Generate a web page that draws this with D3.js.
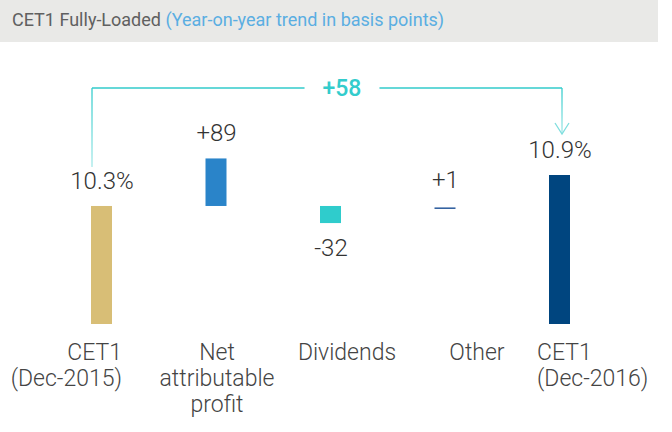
<!DOCTYPE html>
<html>
<head>
<meta charset="utf-8">
<script src="https://cdn.jsdelivr.net/npm/d3@7"></script>
<style>
  body { margin: 0; background: #fff; }
  svg { display: block; }
</style>
</head>
<body>
<script>
// Chart data
const categories = ["CET1 (Dec-2015)", "Net attributable profit", "Dividends", "Other", "CET1 (Dec-2016)"];
const categoryLines = [["CET1", "(Dec-2015)"], ["Net", "attributable", "profit"], ["Dividends"], ["Other"], ["CET1", "(Dec-2016)"]];
const kinds = ["total", "delta", "delta", "delta", "total"];
const valuesBp = [1030, 89, -32, 1, 1088];
const valueLabels = ["10.3%", "+89", "-32", "+1", "10.9%"];
const totalChange = "+58";
const titleMain = "CET1 Fully-Loaded";
const titleSub = "(Year-on-year trend in basis points)";
const colors = ["#d8be76", "#2a84c9", "#2fcccc", "#2a5a9c", "#00457f"];

const width = 672, height = 432;
const barW = 20;
const baseBp = 809; // floor of the cropped axis

const svg = d3.select("body").append("svg")
    .attr("width", width)
    .attr("height", height);

// Header band
svg.append("rect")
    .attr("x", 0).attr("y", 0)
    .attr("width", 658).attr("height", 42)
    .attr("fill", "#e9e9e7");

const title = svg.append("text")
    .attr("x", 12).attr("y", 26)
    .style("font-family", "Roboto, sans-serif")
    .style("font-size", "18px")
    .attr("fill", "#606060");
title.append("tspan").text(titleMain + " ");
title.append("tspan").attr("fill", "#5aaee2").text(titleSub);

// Scales
const x = d3.scalePoint().domain(categories).range([101, 559]);
const xl = d3.scaleBand().domain(categories).range([22, 672]);
const y = d3.scaleLinear().domain([baseBp, valuesBp[4]]).range([324, 175]);

// Bar extents: totals rise from the floor, deltas float off the opening level
const bars = categories.map((c, i) => {
    let y0, y1;
    if (kinds[i] === "total") {
        y0 = y(baseBp); y1 = y(valuesBp[i]);
    } else {
        y0 = y(valuesBp[0]); y1 = y(valuesBp[0] + valuesBp[i]);
    }
    return { c, i, top: Math.min(y0, y1), bottom: Math.max(y0, y1), v: valuesBp[i] };
});

const g = svg.append("g");

g.selectAll("rect.bar")
    .data(bars)
    .enter()
    .append("rect")
    .attr("class", "bar")
    .attr("x", d => x(d.c) - barW / 2)
    .attr("width", barW + 1)
    .attr("y", d => d.bottom - d.top < 2 ? d.top + 2 : d.top)
    .attr("height", d => Math.max(1.5, d.bottom - d.top))
    .attr("fill", d => colors[d.i]);

// Value labels
g.selectAll("text.val")
    .data(bars)
    .enter()
    .append("text")
    .attr("class", "val")
    .attr("x", d => x(d.c) + 1)
    .attr("y", d => d.v < 0 ? d.bottom + 33 : d.top - 17)
    .attr("text-anchor", "middle")
    .style("font-family", "Roboto, sans-serif")
    .style("font-weight", 300)
    .style("font-size", "24px")
    .attr("fill", "#333")
    .text(d => valueLabels[d.i]);

// Category labels
const n = categories.length;
categories.forEach((c, i) => {
    const anchor = i === 0 ? "end" : i === n - 1 ? "start" : "middle";
    const ax = i === 0 ? x(c) + barW + 1 : i === n - 1 ? x(c) - barW - 2 : xl(c) + xl.bandwidth() / 2;
    const t = svg.append("text")
        .attr("text-anchor", anchor)
        .style("font-family", "Roboto, sans-serif")
        .style("font-weight", 300)
        .style("font-size", "23px")
        .attr("fill", "#444");
    categoryLines[i].forEach((line, k) => {
        t.append("tspan")
            .attr("x", ax)
            .attr("y", 360 + k * 26)
            .text(line);
    });
});

// Total change bracket
const teal = "#33cccc";
const defs = svg.append("defs");
const grad = defs.append("linearGradient")
    .attr("id", "fade")
    .attr("x1", 0).attr("y1", 0).attr("x2", 0).attr("y2", 1);
grad.append("stop").attr("offset", "0%").attr("stop-color", teal);
grad.append("stop").attr("offset", "100%").attr("stop-color", "#a6e9e9");

const topY = 88;
const leftX = x(categories[0]) - barW / 2 + 1;
const rightX = x(categories[n - 1]) + 3;
const leftBottom = bars[0].top - 39;
const arrowTip = bars[n - 1].top - 41;
const midX = x(categories[2]) + 12;

const midLabel = svg.append("text")
    .attr("x", midX)
    .attr("y", topY + 8)
    .attr("text-anchor", "middle")
    .style("font-family", "Roboto, sans-serif")
    .style("font-weight", 500)
    .style("font-size", "23px")
    .attr("fill", teal)
    .text(totalChange);
const half = midLabel.node().getComputedTextLength() / 2;
const gapL = midX - half - 18;
const gapR = midX + half + 18;

svg.append("path")
    .attr("d", `M${leftX},${topY}H${gapL}M${gapR},${topY}H${rightX}`)
    .attr("fill", "none")
    .attr("stroke", teal)
    .attr("stroke-width", 1.3);

svg.append("rect")
    .attr("x", leftX - 0.65).attr("y", topY)
    .attr("width", 1.3).attr("height", leftBottom - topY)
    .attr("fill", "url(#fade)");

svg.append("rect")
    .attr("x", rightX - 0.65).attr("y", topY)
    .attr("width", 1.3).attr("height", arrowTip - topY)
    .attr("fill", "url(#fade)");

svg.append("path")
    .attr("d", `M${rightX - 7},${arrowTip - 11}L${rightX},${arrowTip}L${rightX + 7},${arrowTip - 11}`)
    .attr("fill", "none")
    .attr("stroke", "#7fdede")
    .attr("stroke-width", 1.3);
</script>
</body>
</html>
